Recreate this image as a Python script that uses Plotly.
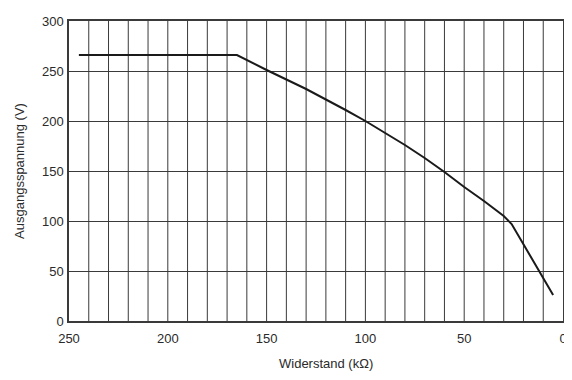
import plotly.graph_objects as go

# resistance (kOhm) and output voltage (V)
widerstand = [245, 165, 150, 130, 110, 100, 90, 80, 70, 60, 50, 40, 30, 26, 5]
spannung = [266, 266, 251, 232, 211, 200, 188, 176, 163, 149, 134, 120, 105, 97, 26]

x_ticks = [0, 50, 100, 150, 200, 250]
y_ticks = [0, 50, 100, 150, 200, 250, 300]

x_title = "Widerstand (kΩ)"
y_title = "Ausgangsspannung (V)"

font_family = "Liberation Sans, Arial, Helvetica, sans-serif"
text_color = "#2a2a2a"
grid_color = "#3a3a3a"

fig = go.Figure()
fig.add_trace(go.Scatter(x=widerstand, y=spannung, mode="lines",
                         line=dict(color="#1a1a1a", width=2),
                         showlegend=False, hoverinfo="skip"))

fig.update_xaxes(range=[250, 0], tickvals=x_ticks,
                 showgrid=False, zeroline=False, automargin=False,
                 showline=True, linecolor=grid_color, linewidth=1.5, mirror=True,
                 ticks="outside", ticklen=5, tickcolor="rgba(0,0,0,0)",
                 tickfont=dict(size=13, color=text_color))

fig.update_yaxes(range=[0, 300], tickvals=y_ticks,
                 showgrid=True, gridcolor=grid_color, gridwidth=1,
                 zeroline=False, automargin=False,
                 showline=True, linecolor=grid_color, linewidth=1.5, mirror=True,
                 ticks="outside", ticklen=1, tickcolor="rgba(0,0,0,0)",
                 title=dict(text=y_title, standoff=14,
                            font=dict(size=13, color=text_color)),
                 tickfont=dict(size=13, color=text_color))

# vertical grid every 10 kOhm
for v in range(10, 250, 10):
    fig.add_vline(x=v, line=dict(color=grid_color, width=1), layer="below")

# x title sits a bit right of the plot centre in the original
fig.add_annotation(text=x_title, xref="paper", yref="paper", x=0.52, y=0,
                   yshift=-42, showarrow=False, xanchor="center", yanchor="middle",
                   font=dict(size=13, color=text_color))

# the page body has an 8px margin, so the figure is drawn 8px in from the corner
fig.update_layout(width=564, height=372,
                  margin=dict(l=61, r=9, t=13, b=59),
                  paper_bgcolor="white", plot_bgcolor="white",
                  font=dict(family=font_family, size=13, color=text_color))

fig.write_html("out.html")
